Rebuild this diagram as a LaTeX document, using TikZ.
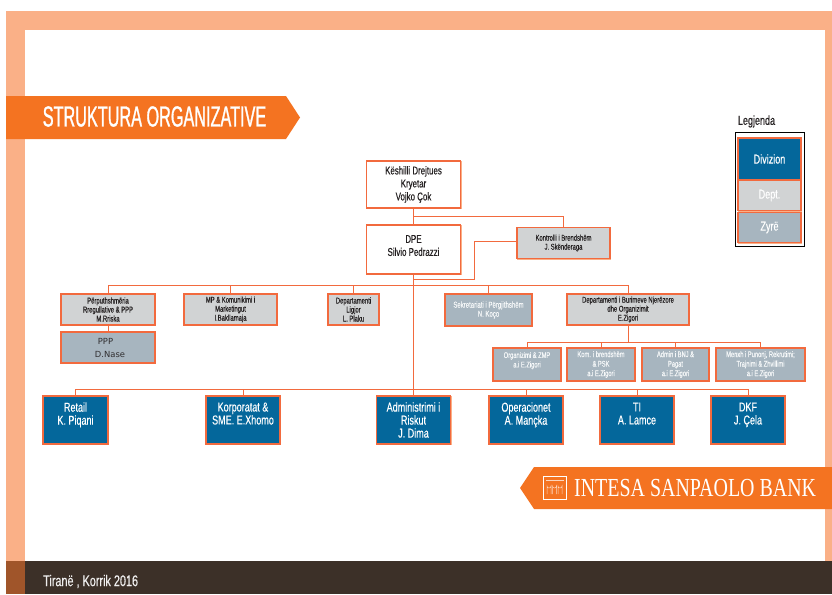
\documentclass[tikz,border=0pt]{standalone}
\usepackage{fontspec}
\setmainfont[FakeStretch=0.70,FakeBold=0.35]{Liberation Sans}
\newfontfamily\titlef[FakeStretch=0.56,FakeBold=1]{Liberation Sans}
\newfontfamily\plainf{DejaVu Sans}
\newfontfamily\logof[FakeStretch=0.767]{Liberation Serif}
\definecolor{peach}{HTML}{FAB087}
\definecolor{orangeb}{HTML}{F47321}
\definecolor{linec}{HTML}{F26A3E}
\definecolor{dark}{HTML}{3C3028}
\definecolor{brownb}{HTML}{A0552A}
\definecolor{divblue}{HTML}{04679B}
\definecolor{deptgrey}{HTML}{D1D3D4}
\definecolor{zyre}{HTML}{A7B5BF}
\definecolor{txt}{HTML}{231F20}
\tikzset{
  box/.style={draw=linec,line width=1.2pt,inner sep=0pt,align=center,anchor=center,
    preaction={draw=peach,line width=1pt,transform canvas={xshift=.8pt,yshift=-.8pt}}},
  topbox/.style={box,fill=white,text=txt,font=\fontsize{11.3}{13}\selectfont},
  deptbox/.style={box,fill=deptgrey,text=txt,font=\fontsize{8.4}{9}\selectfont},
  zyrebox/.style={box,fill=zyre,text=white!90!zyre,font=\fontsize{8.2}{9.5}\selectfont},
  divbox/.style={box,fill=divblue,text=white,font=\fontsize{12.9}{13}\selectfont},
  legendfont/.style={font=\fontsize{12.9}{14}\selectfont},
  link/.style={draw=linec,line width=1pt},
}
\begin{document}
\begin{tikzpicture}[x=1pt,y=-1pt]
\useasboundingbox (0,0) rectangle (832,594);
\fill[white] (0,0) rectangle (832,594);
% frame
\fill[peach] (6,11) rectangle (832,30);
\fill[peach] (6,11) rectangle (25,561);
\fill[peach] (825,11) rectangle (832,561);
\fill[dark] (25,561) rectangle (832,594);
\fill[brownb] (6,561) rectangle (25,594);
\node[anchor=west,text=white!92!dark,inner sep=0pt,font=\fontsize{15.5}{17}\selectfont] (date) at (43,581.5) {Tiranë , Korrik 2016};
% title banner
\fill[orangeb] (6,96) -- (286,96) -- (300,117.5) -- (286,139) -- (6,139) -- cycle;
\node[anchor=center,text=white,inner sep=0pt,font=\titlef\fontsize{29}{30}\selectfont] (title) at (154.5,116.5) {STRUKTURA ORGANIZATIVE};
% logo banner
\fill[orangeb] (520,488) -- (534,467) -- (832,467) -- (832,509) -- (534,509) -- cycle;
\draw[white,line width=0.8pt] (543.5,476.5) rectangle (566,499);
\draw[white!70!orangeb,line width=0.5pt] (546,480) -- (563.5,480);
\foreach \a in {547,552.5,558}{
  \draw[white!70!orangeb,line width=0.5pt] (\a,494) -- (\a,486) arc[start angle=180,end angle=0,radius=2] -- ++(0,8);
}
\node[anchor=west,text=white,inner sep=0pt,font=\logof\fontsize{26}{27}\selectfont] (logo) at (574,488) {INTESA SANPAOLO BANK};
% legend
\node[anchor=center,text=txt,inner sep=0pt,legendfont] (legt) at (756.5,121.5) {Legjenda};
\node[draw=black,line width=0.9pt,fill=white,inner sep=0pt,minimum width=69pt,minimum height=114pt] (legf) at (769.5,189.5) {};
\node[divbox,minimum width=63pt,minimum height=42pt,legendfont] (legd) at (769.5,159) {Divizion};
\node[deptbox,text=white,minimum width=63pt,minimum height=30pt,legendfont] (lege) at (769.5,195.5) {Dept.};
\node[zyrebox,text=white,minimum width=63pt,minimum height=30pt,legendfont] (legz) at (769.5,227.5) {Zyrë};
% chart nodes
\node[topbox,minimum width=94pt,minimum height=47pt] (kesh) at (413.5,184.5) {Këshilli Drejtues\\Kryetar\\Vojko Çok};
\node[topbox,minimum width=94pt,minimum height=49pt] (dpe) at (413.5,249.5) {DPE\\Silvio Pedrazzi\\[-5pt]\mbox{}};
\node[deptbox,minimum width=93pt,minimum height=31pt] (kont) at (563.5,243) {Kontrolli i Brendshëm\\J. Skënderaga};
\node[deptbox,minimum width=94pt,minimum height=31pt] (perp) at (108,309.5) {Përputhshmëria\\Rregullative \& PPP\\M.Rriska};
\node[deptbox,minimum width=93pt,minimum height=31pt] (mp) at (230.5,309.5) {MP \& Komunikimi i\\Marketingut\\I.Bakllamaja};
\node[deptbox,minimum width=51pt,minimum height=31pt] (lig) at (353.5,309.5) {Departamenti\\Ligjor\\L. Plaku};
\node[zyrebox,minimum width=87pt,minimum height=32pt,font=\fontsize{8.6}{9}\selectfont] (sek) at (488.5,310) {Sekretariati i Përgjithshëm\\N. Koço};
\node[deptbox,minimum width=122pt,minimum height=31pt] (bnj) at (628,309.5) {Departamenti i Burimeve Njerëzore\\dhe Organizimit\\E.Zigori};
\node[zyrebox,minimum width=94pt,minimum height=31pt,text=txt!90!zyre,font=\plainf\fontsize{8.4}{13}\selectfont,align=center] (ppp) at (108,347.5) {\hspace*{-5pt}PPP\\\hspace*{4pt}D.Nase};
\node[zyrebox,minimum width=68pt,minimum height=33pt] (org) at (527,364.5) {Organizimi \& ZMP\\a.i E.Zigori\\\mbox{}};
\node[zyrebox,minimum width=68pt,minimum height=33pt] (kom) at (601,364.5) {Kom. i brendshëm\\\& PSK\\a.i E.Zigori};
\node[zyrebox,minimum width=67pt,minimum height=33pt] (adm) at (675.5,364.5) {Admin i BNJ \&\\Pagat\\a.i E.Zigori};
\node[zyrebox,minimum width=89pt,minimum height=33pt] (men) at (760.5,364.5) {Menxh i Punonj, Rekrutimi;\\Trajnimi \& Zhvillimi\\a.i E.Zigori};
\node[divbox,minimum width=65pt,minimum height=48pt] (ret) at (75.5,420) {Retail\\K. Piqani\\\mbox{}};
\node[divbox,minimum width=74pt,minimum height=48pt] (kor) at (243,420) {Korporatat \&\\SME. E.Xhomo\\\mbox{}};
\node[divbox,minimum width=74pt,minimum height=48pt] (ris) at (413.5,420) {Administrimi i\\Riskut\\J. Dima};
\node[divbox,minimum width=74pt,minimum height=48pt] (ope) at (526,420) {Operacionet\\A. Mançka\\\mbox{}};
\node[divbox,minimum width=74pt,minimum height=48pt] (ti) at (637,420) {TI\\A. Lamce\\\mbox{}};
\node[divbox,minimum width=74pt,minimum height=48pt] (dkf) at (748,420) {DKF\\J. Çela\\\mbox{}};
% junctions
\coordinate (jk) at (413.5,216.5);
\coordinate (jkl) at (474.5,241.5);
\coordinate (jd) at (413.5,279.5);
\coordinate (bus) at (413.5,285.5);
\coordinate (jb) at (628,342.5);
\coordinate (bd) at (413.5,389.5);
% connectors
\draw[link] (kesh.south) -- (dpe.north);
\draw[link] (jk) -| (kont.north);
\draw[link] (kont.west |- jkl) -- (jkl) |- (jd);
\draw[link] (dpe.south) -- (ris.north);
\draw[link] (perp.north) |- (bus) -| (bnj.north);
\foreach \n in {mp,lig,sek}{\draw[link] (\n.north) -- (\n.north |- bus);}
\draw[link] (perp.south) -- (ppp.north);
\draw[link] (bnj.south) -- (jb);
\draw[link] (org.north) |- (jb) -| (men.north);
\foreach \n in {kom,adm}{\draw[link] (\n.north) -- (\n.north |- jb);}
\draw[link] (ret.north) |- (bd) -| (dkf.north);
\foreach \n in {kor,ope,ti}{\draw[link] (\n.north) -- (\n.north |- bd);}
\end{tikzpicture}
\end{document}
